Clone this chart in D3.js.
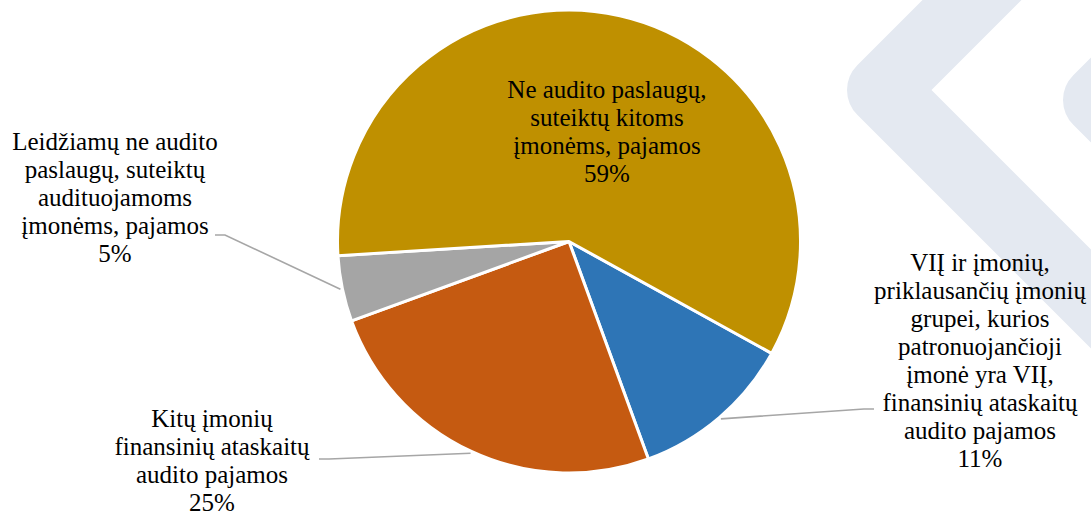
<!DOCTYPE html>
<html lang="lt">
<head>
<meta charset="UTF-8">
<title>pajamos</title>
<script src="https://cdn.jsdelivr.net/npm/d3@7"></script>
<style>
  body { margin: 0; background: #fff; }
  text { font-family: "Liberation Serif", "DejaVu Serif", serif; fill: #000; }
</style>
</head>
<body>
<script>
// duomenys (pradedant nuo mėlynos dalies, pagal laikrodžio rodyklę)
var categories = [
  ["VIĮ ir įmonių,", "priklausančių įmonių", "grupei, kurios", "patronuojančioji", "įmonė yra VIĮ,", "finansinių ataskaitų", "audito pajamos"],
  ["Kitų įmonių", "finansinių ataskaitų", "audito pajamos"],
  ["Leidžiamų ne audito", "paslaugų, suteiktų", "audituojamoms", "įmonėms, pajamos"],
  ["Ne audito paslaugų,", "suteiktų kitoms", "įmonėms, pajamos"]
];
var values = [11.4, 25.0, 4.6, 59.0];
var colors = ["#2e75b6", "#c55a11", "#a5a5a5", "#bf9000"];

// etikečių vieta: centras x, pirmos eilutės bazinė linija y, linijos pradžia
var labelX = [980, 212, 115, 607];
var labelY = [271, 427, 150, 98];
var leaderFrom = [[874, 409], [319, 459], [215, 235], null];

var W = 1091, H = 515;
var cx = 569, cy = 241.5, R = 231.5;
var lineH = 28;

var svg = d3.select("body").append("svg")
  .attr("width", W)
  .attr("height", H);

// fono ženklas
var wm = svg.append("g").attr("fill", "none").attr("stroke", "#e4e9f1")
  .attr("stroke-width", 70).attr("stroke-linejoin", "round");
wm.append("path").attr("d", "M1000,-28 L882,90 L1170,378");
wm.append("path").attr("d", "M1200,-2 L1098,100 L1200,202");

var total = d3.sum(values);
var pie = d3.pie().sort(null).value(function(d) { return d; })
  .startAngle(118.9 * Math.PI / 180)
  .endAngle(118.9 * Math.PI / 180 + 2 * Math.PI);
var arcs = pie(values);

var arc = d3.arc().innerRadius(0).outerRadius(R);
var edge = d3.arc().innerRadius(R + 2).outerRadius(R + 2);

var g = svg.append("g").attr("transform", "translate(" + cx + "," + cy + ")");

g.selectAll("path.slice")
  .data(arcs)
  .enter().append("path")
    .attr("class", "slice")
    .attr("d", arc)
    .attr("fill", function(d, i) { return colors[i]; })
    .attr("stroke", "#fff")
    .attr("stroke-width", 3)
    .attr("stroke-linejoin", "round");

// linijos
arcs.forEach(function(d, i) {
  if (!leaderFrom[i]) return;
  var c = edge.centroid(d);
  var p = [c[0] + cx, c[1] + cy];
  var s = leaderFrom[i];
  var dir = p[0] > s[0] ? 1 : -1;
  svg.append("path")
    .attr("d", d3.line()([s, [s[0] + dir * 10, s[1]], p]))
    .attr("fill", "none")
    .attr("stroke", "#a6a6a6")
    .attr("stroke-width", 1.6);
});

// etiketės
arcs.forEach(function(d, i) {
  var t = svg.append("text")
    .attr("x", labelX[i])
    .attr("y", labelY[i])
    .attr("text-anchor", "middle")
    .attr("font-size", 25);
  var lines = categories[i].concat([Math.round(values[i] / total * 100) + "%"]);
  lines.forEach(function(l, j) {
    t.append("tspan")
      .attr("x", labelX[i])
      .attr("dy", j === 0 ? 0 : lineH)
      .text(l);
  });
});
</script>
</body>
</html>
